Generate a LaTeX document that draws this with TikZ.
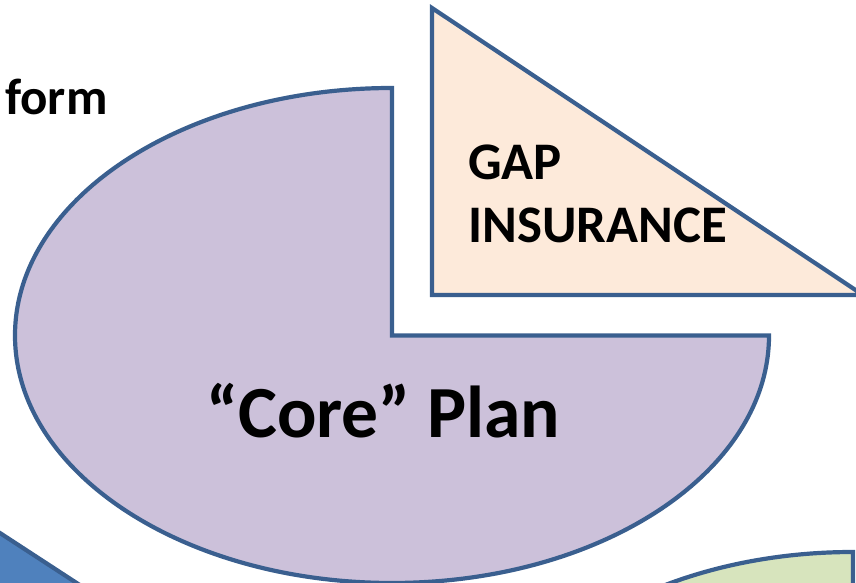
\documentclass[tikz,border=0pt]{standalone}
\usepackage{fontspec}
\setmainfont{Carlito}
\definecolor{edge}{HTML}{3A5F8F}
\definecolor{corefill}{HTML}{CCC1DA}
\definecolor{gapfill}{HTML}{FDEADA}
\definecolor{bluefill}{HTML}{4F81BD}
\definecolor{greenfill}{HTML}{D7E4BD}
\tikzset{
  shapeline/.style={draw=edge, line width=4.2pt, line join=miter},
  lbl/.style={inner sep=0pt, anchor=base west, font=\bfseries},
}
\begin{document}
\begin{tikzpicture}[x=1pt,y=1pt]
\useasboundingbox (0,0) rectangle (856,583);
\clip (0,0) rectangle (856,583);
% blue piece bottom-left
\path[shapeline, fill=bluefill] (-20,63) -- (92,-10) -- (-20,-10) -- cycle;
% green piece bottom-right
\path[shapeline, fill=greenfill] (853,-218) -- (853,31) arc[start angle=90, end angle=180, x radius=377, y radius=249] -- cycle;
% core plan pie (three quarters)
\path[shapeline, fill=corefill] (392,247.5) -- (392,495) arc[start angle=90, end angle=360, x radius=377, y radius=247.5] -- cycle;
% gap insurance wedge
\path[shapeline, fill=gapfill] (432,575) -- (432,288) -- (863,288) -- cycle;
% texts
\node[lbl, font=\bfseries\fontsize{51}{60}\selectfont] (form) at (5,468) {form};
\node[lbl, font=\bfseries\fontsize{52.8}{63}\selectfont] (gap) at (468,403) {GAP};
\node[lbl, font=\bfseries\fontsize{52.8}{63}\selectfont] (ins) at (468,340) {INSURANCE};
\node[lbl, font=\bfseries\fontsize{73.5}{88}\selectfont] (core) at (206,145) {“Core” Plan};
\end{tikzpicture}
\end{document}
